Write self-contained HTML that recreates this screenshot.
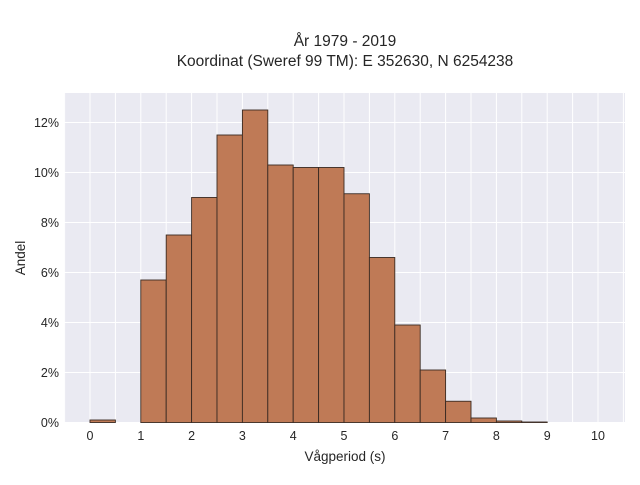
<!DOCTYPE html>
<html><head><meta charset="utf-8"><style>
body{margin:0;background:#fff;font-family:"Liberation Sans",sans-serif;}
svg text{font-family:"Liberation Sans",sans-serif;fill:#262626;}
</style></head><body>
<svg width="640" height="480">
<text x="345" y="46" text-anchor="middle" font-size="15.5">År 1979 - 2019</text>
<text x="345" y="66" text-anchor="middle" font-size="15.5">Koordinat (Sweref 99 TM): E 352630, N 6254238</text>
<rect x="64" y="93" width="561" height="330" fill="#eaeaf2"/>
<g id="grid"></g>
<g id="bars"></g>
<g id="axes"></g>
<text x="345" y="461" text-anchor="middle" font-size="13.5">Vågperiod (s)</text>
<text transform="translate(25,258) rotate(-90)" text-anchor="middle" font-size="13.5">Andel</text>
</svg>
<script>
const binStarts=[0,0.5,1,1.5,2,2.5,3,3.5,4,4.5,5,5.5,6,6.5,7,7.5,8,8.5];
const shares=[0.1,0,5.7,7.5,9.0,11.5,12.5,10.3,10.2,10.2,9.15,6.6,3.9,2.1,0.85,0.18,0.06,0.02];
const xTicks=[0,1,2,3,4,5,6,7,8,9,10];
const yTicks=[0,2,4,6,8,10,12];
const binWidth=0.5;
const NS="http://www.w3.org/2000/svg";
const xs=v=>90+v*50.8;
const ys=v=>422.5-v*25;
const grid=document.getElementById('grid'),bars=document.getElementById('bars'),axes=document.getElementById('axes');
function mk(tag,attrs,parent){const e=document.createElementNS(NS,tag);for(const k in attrs)e.setAttribute(k,attrs[k]);parent.appendChild(e);return e;}
for(let v=-0.5;v<=10.5;v+=0.5){const x=xs(v);if(x<64||x>625)continue;
const l=mk('line',{x1:x,x2:x,y1:93,y2:423,stroke:'#fff','stroke-width':1},grid);

}
yTicks.forEach(t=>{const l=mk('line',{x1:64,x2:625,y1:ys(t),y2:ys(t),stroke:'#fff','stroke-width':1},grid);


const tx=mk('text',{x:59,y:ys(t)+4.5,'text-anchor':'end','font-size':12.5},axes);tx.textContent=t+'%';

});
xTicks.forEach(t=>{const tx=mk('text',{x:xs(t),y:440,'text-anchor':'middle','font-size':12.5},axes);tx.textContent=t;

});
binStarts.forEach((b,i)=>{if(shares[i]<=0)return;
const r=mk('rect',{x:xs(b),y:ys(shares[i]),width:xs(b+binWidth)-xs(b),height:ys(0)-ys(shares[i]),fill:'#bf7a56',stroke:'#3a2a22','stroke-width':0.9},bars);

});
</script>
</body></html>
